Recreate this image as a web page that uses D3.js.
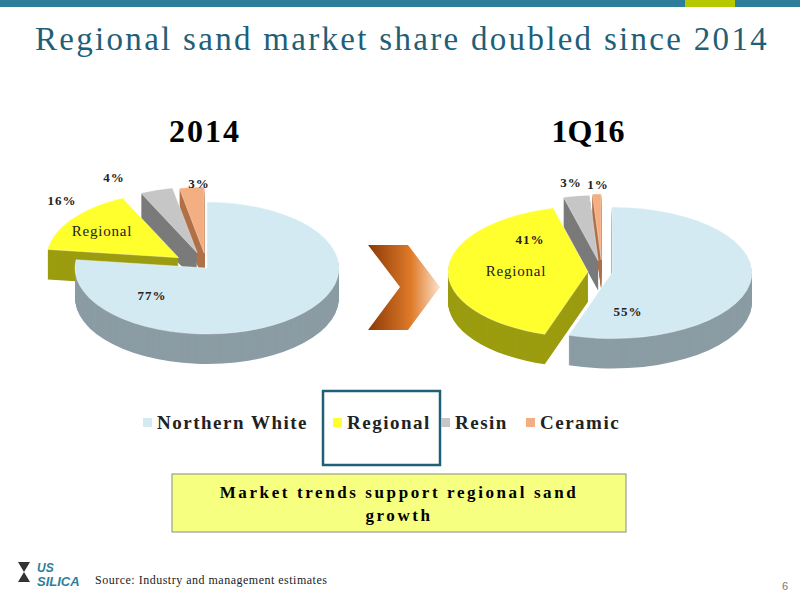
<!DOCTYPE html><html><head><script src="https://cdn.jsdelivr.net/npm/d3@7"></script>
<style>body{margin:0;background:#fff}svg{font-family:"Liberation Serif",serif}</style></head><body>
<svg id="c" width="800" height="600"></svg>
<script>
const categories=["Northern White","Regional","Resin","Ceramic"];
const values2014=[77,16,4,3];
const values1Q16=[55,41,3,1];
const labels2014=["77%","16%","4%","3%"];
const labels1Q16=["55%","41%","3%","1%"];
const topColors=["#D3EAF3","#FFFF2E","#C6C6C6","#F3AE82"];
const sideColors=["#8B9CA4","#9C9C10","#7A7A7A","#B07048"];
const svg=d3.select("#c");
svg.append("rect").attr("x",0).attr("y",0).attr("width",685).attr("height",7).attr("fill","#2E7E9B");
svg.append("rect").attr("x",685).attr("y",0).attr("width",50).attr("height",7).attr("fill","#B6C800");
svg.append("rect").attr("x",735).attr("y",0).attr("width",65).attr("height",7).attr("fill","#2E7E9B");
svg.append("text").attr("x",402).attr("y",50).attr("text-anchor","middle").attr("font-size",33).attr("fill","#1F5F78").attr("letter-spacing",2.3).text("Regional sand market share doubled since 2014");

function pie3d(cx,cy,R,ratio,depth,vals,explode,labs,labPos,regPos){
  const g=svg.append("g").attr("transform",`translate(${cx},${cy}) scale(1,${ratio})`);
  const arcs=d3.pie().sort(null).startAngle(0)(vals);
  const arc=d3.arc().innerRadius(0).outerRadius(R);
  const off=arcs.map((a,i)=>{const m=(a.startAngle+a.endAngle)/2;return [Math.sin(m)*explode[i],-Math.cos(m)*explode[i]];});
  for(let d=depth;d>0;d-=1){
    arcs.forEach((a,i)=>g.append("path").attr("d",arc(a)).attr("fill",sideColors[i]).attr("transform",`translate(${off[i][0]},${off[i][1]+d/ratio})`));
  }
  arcs.forEach((a,i)=>g.append("path").attr("d",arc(a)).attr("fill",topColors[i]).attr("stroke","#fff").attr("stroke-width",0.5).attr("transform",`translate(${off[i][0]},${off[i][1]})`));
  labs.forEach((l,i)=>svg.append("text").attr("x",labPos[i][0]).attr("y",labPos[i][1]).attr("text-anchor","middle").attr("font-size",13).attr("font-weight","bold").attr("fill","#222").attr("letter-spacing",1).text(l));
  svg.append("text").attr("x",regPos[0]).attr("y",regPos[1]).attr("text-anchor","middle").attr("font-size",15).attr("fill","#222").attr("letter-spacing",0.8).text("Regional");
}
pie3d(207,268,132,0.5,30,values2014,[0,35,32,30],labels2014,[[152,300],[62,205],[114,182],[199,188]],[102,236]);
pie3d(602,272,140,0.47,30,values1Q16,[10,14,24,26],labels1Q16,[[628,316],[530,244],[571,187],[598,189]],[516,276]);

svg.append("text").attr("x",205).attr("y",142).attr("text-anchor","middle").attr("font-size",32).attr("font-weight","bold").attr("letter-spacing",2).text("2014");
svg.append("text").attr("x",588).attr("y",142).attr("text-anchor","middle").attr("font-size",32).attr("font-weight","bold").text("1Q16");

const grad=svg.append("defs").append("linearGradient").attr("id","og");
grad.append("stop").attr("offset","0").attr("stop-color","#8A3A08");
grad.append("stop").attr("offset","0.6").attr("stop-color","#E07A28");
grad.append("stop").attr("offset","1").attr("stop-color","#FBE3CC");
svg.append("path").attr("d","M368,245 L408,245 L440,287 L408,330 L368,330 L400,287 Z").attr("fill","url(#og)");

svg.append("rect").attr("x",323).attr("y",391).attr("width",117).attr("height",74).attr("fill","none").attr("stroke","#1F5F78").attr("stroke-width",2.5);
const lx=[143,333,441,526];
categories.forEach((c,i)=>{
  svg.append("rect").attr("x",lx[i]).attr("y",418).attr("width",9).attr("height",9).attr("fill",topColors[i]);
  svg.append("text").attr("x",lx[i]+14).attr("y",429).attr("font-size",19).attr("font-weight","bold").attr("fill","#222").attr("letter-spacing",1.5).attr("textLength",null).text(c);
});

svg.append("rect").attr("x",172).attr("y",474).attr("width",454).attr("height",58).attr("fill","#F6FF80").attr("stroke","#8A8A8A");
svg.append("text").attr("x",399).attr("y",498).attr("text-anchor","middle").attr("font-size",17).attr("font-weight","bold").attr("letter-spacing",2.6).text("Market trends support regional sand");
svg.append("text").attr("x",399).attr("y",521).attr("text-anchor","middle").attr("font-size",17).attr("font-weight","bold").attr("letter-spacing",2.6).text("growth");

svg.append("path").attr("d","M18,562 L30,562 L24,572 L30,582 L18,582 L24,572 Z").attr("fill","#333");
svg.append("text").attr("x",37).attr("y",572).attr("font-family","Liberation Sans").attr("font-style","italic").attr("font-weight","bold").attr("font-size",12).attr("fill","#2E7E9B").text("US");
svg.append("text").attr("x",37).attr("y",586).attr("font-family","Liberation Sans").attr("font-style","italic").attr("font-weight","bold").attr("font-size",13).attr("fill","#2E7E9B").text("SILICA");
svg.append("text").attr("x",95).attr("y",584).attr("font-size",12).attr("fill","#222").attr("letter-spacing",0.5).text("Source: Industry and management estimates");
svg.append("text").attr("x",782).attr("y",590).attr("font-family","Liberation Sans").attr("font-size",11).attr("fill","#777").text("6");
</script></body></html>
